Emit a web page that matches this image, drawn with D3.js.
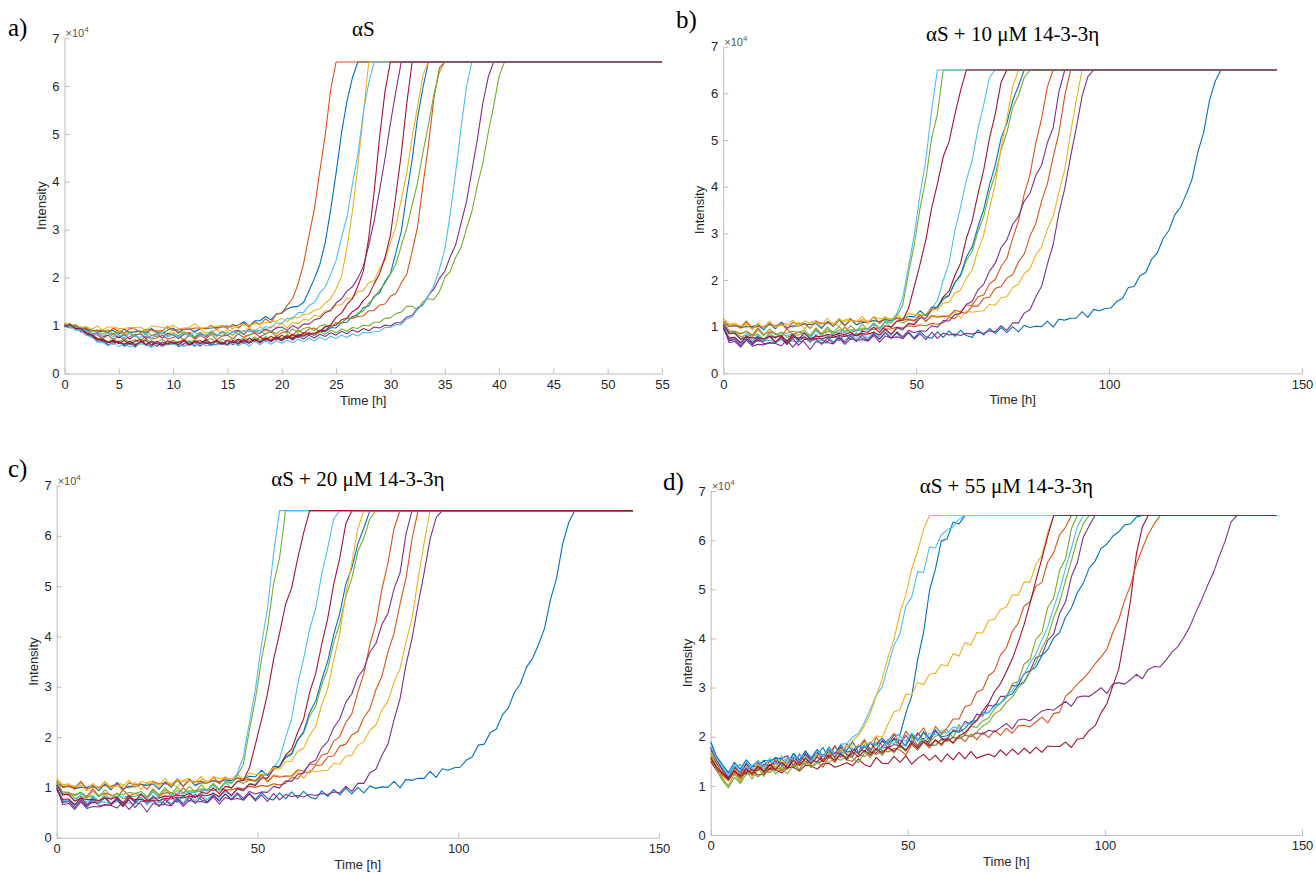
<!DOCTYPE html>
<html><head><meta charset="utf-8">
<script src="https://cdn.jsdelivr.net/npm/d3@7"></script>
<style>
body{margin:0;background:#fff}
svg{display:block}
</style>
</head><body>
<svg id="chart" width="1316" height="875"></svg>
<script>
// MATLAB default line colour order
const COLORS = ["#0072BD","#D95319","#EDB120","#7E2F8E","#77AC30","#4DBEEE","#A2142F"];
const TICKS_A = [0,5,10,15,20,25,30,35,40,45,50,55];
const TICKS_BCD = [0,50,100,150];
const Y_TICKS = [0,1,2,3,4,5,6,7]; // ×10^4
// sampling interval (h) of the values below, and end of record (h)
const DT_A = 0.5, T_END_A = 55;
const DT_BCD = 1.5, T_END_BCD = 143.5;
// intensity values are in units of 100 (650 = 6.5×10^4 = detector saturation)

// ---- panel a) αS, 14 wells, slot order = MATLAB colour order
const seriesA = [
 // blue
 [99,104,93,92,80,78,67,69,60,64,66,57,63,55,66,60,57,67,58,64,65,56,62,68,58,63,66,58,68,61,67,60,69,63,65,72,64,73,67,75,70,77,72,80,77,85,79,88,87,96,95,106,107,119,122,137,141,161,168,192,208,252,296,374,446,534,597,650],
 // orange
 [100,96,98,90,89,81,81,73,80,71,79,70,77,82,69,78,72,74,80,72,75,79,69,81,72,79,73,82,70,78,80,72,83,75,81,84,76,83,87,78,85,88,79,91,83,93,95,87,99,96,106,105,115,115,119,120,131,131,143,145,161,167,189,207,254,306,394,476,574,637,650],
 // yellow
 [106,101,102,95,96,89,91,89,91,83,92,84,88,86,89,80,91,82,90,81,92,83,87,85,88,93,84,87,92,83,91,88,90,87,96,86,98,89,99,96,105,95,107,104,113,111,121,119,131,130,143,143,156,158,171,173,189,194,218,237,273,307,363,417,493,557,623,650],
 // purple
 [100,96,96,87,85,75,74,66,67,61,68,59,66,57,67,59,65,56,66,60,62,66,58,61,65,57,67,60,61,66,59,68,61,70,63,71,64,72,66,74,68,76,70,78,72,80,74,82,77,85,80,88,83,91,86,94,89,97,95,101,99,106,106,118,121,137,144,163,176,198,213,243,268,313,358,423,488,563,618,650],
 // green
 [99,104,94,93,84,82,73,73,66,72,65,73,64,71,63,72,65,66,71,64,70,63,72,64,71,62,70,73,64,72,66,74,67,75,68,76,69,77,71,79,73,81,75,83,77,85,79,87,82,90,85,93,88,96,94,101,99,107,107,115,116,125,128,140,140,133,150,156,154,170,200,213,242,263,302,338,392,438,502,558,620,650],
 // light blue
 [97,97,90,90,80,77,66,65,58,64,56,63,55,62,61,61,54,63,56,62,60,59,57,63,56,65,58,59,60,61,59,66,58,65,57,67,60,68,61,69,63,70,64,72,66,74,68,76,70,78,73,80,75,83,78,86,85,87,88,96,96,102,102,114,118,134,143,162,183,217,258,332,418,512,598,650],
 // dark red
 [101,101,95,95,85,82,72,72,65,67,66,61,68,60,66,69,59,67,61,62,66,60,68,59,65,69,62,64,68,63,61,69,63,71,64,72,66,74,69,76,71,79,73,81,80,82,83,90,90,99,101,112,116,129,136,152,163,187,208,242,288,372,458,562,650],
 // blue
 [103,102,96,97,91,92,87,88,88,90,82,93,85,87,88,84,94,86,83,91,95,85,93,93,87,94,94,95,96,97,98,99,101,108,99,110,110,119,112,124,126,135,139,140,148,172,198,227,273,342,418,502,568,617,650],
 // orange
 [101,97,99,94,94,88,90,89,85,95,87,84,94,93,86,92,91,89,89,98,90,91,92,92,95,95,93,101,92,100,94,103,95,105,97,108,102,114,106,124,126,142,156,187,228,287,343,422,498,592,650],
 // yellow
 [105,100,102,96,98,92,99,91,97,97,94,94,96,96,97,89,99,98,96,94,101,93,95,96,104,94,96,97,99,99,100,93,102,101,101,103,104,106,108,109,115,108,118,116,123,124,132,135,147,156,177,203,262,338,432,538,650],
 // purple
 [100,95,101,91,93,83,85,77,80,83,74,81,72,80,83,73,79,82,74,84,80,73,82,85,75,83,77,86,78,88,80,87,90,82,92,85,84,93,87,95,97,90,100,94,103,103,112,115,127,132,147,156,172,181,199,223,267,318,382,448,522,588,650],
 // green
 [103,98,100,94,96,88,89,82,88,80,87,79,86,78,85,88,80,77,86,79,85,78,87,80,77,86,79,88,81,78,86,80,88,81,79,87,90,82,89,83,91,84,93,86,94,97,89,99,102,96,106,106,115,116,126,130,147,158,174,188,207,228,267,303,352,398,462,518,582,628,650],
 // light blue
 [102,96,97,91,90,82,83,77,85,76,82,74,84,77,75,83,73,82,85,76,82,75,84,77,86,78,80,85,77,87,80,88,82,90,87,91,89,98,95,106,104,115,114,127,127,142,148,168,181,207,236,284,326,394,456,544,606,650],
 // dark red
 [98,102,94,94,83,80,70,71,64,70,62,69,61,67,71,60,68,62,59,69,63,65,70,60,68,62,71,63,69,61,70,64,72,65,74,67,76,69,78,71,80,73,82,75,85,84,84,88,97,101,117,126,144,156,182,213,282,378,492,588,650]
];

// ---- panel b) αS + 10 µM 14-3-3η
const seriesB = [
 // blue
 [96,72,74,66,76,64,80,68,79,66,74,62,82,69,80,66,83,72,68,82,70,84,72,86,75,71,85,73,87,76,86,74,88,76,90,78,75,89,77,91,79,92,81,77,93,82,96,85,98,87,100,89,103,98,101,100,112,99,116,114,118,118,132,120,137,134,139,140,154,161,184,186,209,216,244,258,289,306,339,356,384,416,474,516,584,626,650],
 // orange
 [106,88,90,84,90,82,97,83,89,85,79,95,83,88,86,80,96,84,89,89,85,99,87,92,92,96,94,98,95,95,99,97,102,100,104,102,107,105,108,120,117,131,129,144,144,161,163,182,186,204,211,239,256,294,321,369,406,464,516,594,650],
 // yellow
 [118,105,107,95,109,97,100,99,111,96,108,106,98,110,95,109,113,99,111,108,101,114,118,103,116,112,113,109,122,107,120,116,117,114,126,112,125,122,123,120,132,118,134,131,133,134,148,146,162,164,184,191,214,224,254,271,309,336,389,436,514,586,650],
 // purple
 [102,66,68,56,71,58,62,61,65,64,59,71,56,70,67,51,68,65,66,63,76,62,74,71,72,69,81,67,80,76,78,75,87,73,85,72,88,75,86,82,84,81,86,84,88,86,91,89,102,92,108,108,129,136,164,186,234,276,344,396,464,526,594,636,650],
 // green
 [104,84,88,86,90,78,93,81,95,83,87,86,90,88,92,81,97,85,99,87,100,88,102,91,105,93,107,95,110,98,112,108,114,113,126,124,140,142,162,168,194,208,242,261,304,336,389,426,479,516,569,596,634,650],
 // light blue
 [102,74,74,62,76,60,73,70,71,67,72,69,69,66,80,68,72,70,83,67,80,69,84,73,87,75,90,78,93,81,96,93,107,106,124,124,139,156,199,236,304,356,414,456,524,576,634,650],
 // dark red
 [98,76,77,65,80,66,70,69,82,67,79,65,78,76,76,73,75,74,78,77,81,79,83,81,85,84,88,82,95,84,98,94,107,104,119,118,136,141,164,176,209,236,289,326,384,436,504,556,624,650],
 // blue
 [110,101,102,98,100,100,104,93,107,95,110,97,102,101,106,104,107,96,111,100,114,102,116,104,109,109,113,111,115,113,118,116,122,121,134,124,142,141,159,166,194,211,249,271,314,351,404,446,504,536,584,616,650],
 // orange
 [112,100,103,99,112,97,101,100,104,102,106,94,109,105,107,96,111,107,108,104,117,102,114,111,112,108,121,107,119,116,118,114,116,112,125,111,123,120,122,123,135,132,146,146,164,168,192,201,229,246,289,326,384,426,494,546,614,650],
 // yellow
 [115,104,106,102,104,93,108,97,112,99,103,102,114,100,112,108,109,105,118,103,115,112,113,110,122,108,121,117,119,115,127,114,129,125,126,127,139,136,151,152,172,178,204,221,264,296,354,406,484,546,614,650],
 // purple
 [100,70,72,59,74,61,76,63,66,65,77,62,75,60,73,71,74,62,76,64,78,66,80,68,82,70,84,73,87,75,89,78,92,87,91,90,102,99,113,112,126,128,148,154,179,191,219,236,269,286,319,336,369,386,424,446,494,526,604,650],
 // green
 [112,91,90,78,82,80,84,72,87,75,89,77,82,82,87,76,92,80,95,83,94,90,93,93,97,95,108,96,112,109,124,146,214,276,354,416,504,556,650],
 // light blue
 [108,88,84,72,86,70,83,67,81,79,82,81,84,72,88,77,91,79,83,84,89,87,91,90,94,93,105,92,110,108,129,161,229,296,384,456,564,650],
 // dark red
 [105,86,86,73,78,76,76,74,79,77,81,69,84,72,86,74,79,79,83,81,85,83,88,80,90,88,99,87,102,99,112,114,139,186,234,286,354,406,464,496,554,606,650]
];

// ---- panel c) αS + 20 µM 14-3-3η : the traces read off panel c coincide with panel b
const seriesC = seriesB;

// ---- panel d) αS + 55 µM 14-3-3η
const seriesD = [
 // blue
 [178,148,136,119,141,122,147,128,139,151,133,158,141,147,166,143,171,150,162,178,155,181,166,172,190,168,193,174,186,197,184,204,203,248,283,357,412,497,541,598,603,637,633,650],
 // orange
 [160,146,121,116,133,113,139,122,147,128,136,153,131,158,141,149,167,146,172,153,164,182,158,186,171,179,194,168,199,181,192,207,184,211,196,203,218,194,221,207,218,236,236,261,265,291,296,324,334,366,381,414,431,466,474,506,514,556,574,611,626,650],
 // yellow
 [158,149,114,117,128,113,136,121,131,142,128,147,133,154,139,148,163,144,168,150,172,156,177,162,183,180,188,186,202,199,226,251,255,287,286,311,306,327,329,347,344,369,364,392,386,412,411,437,439,459,464,489,488,515,514,551,569,616,650],
 // purple
 [172,146,131,114,136,143,123,140,148,127,152,136,156,161,140,165,149,154,169,151,174,158,179,164,160,183,168,189,172,193,177,198,183,203,186,208,193,189,212,197,195,214,211,231,226,246,242,264,262,282,282,304,304,328,334,361,366,396,409,451,474,526,554,606,629,650],
 // green
 [167,138,115,100,124,108,131,114,137,119,145,124,139,134,153,132,158,139,150,149,169,147,173,152,166,168,184,160,188,169,180,194,177,186,203,181,209,188,201,204,214,198,225,203,221,219,232,238,257,268,279,308,312,348,357,398,412,463,482,538,562,623,650],
 // light blue
 [188,157,141,124,143,129,149,133,152,138,156,143,161,147,166,151,170,156,174,161,179,166,185,186,199,207,229,256,284,301,344,386,409,466,484,536,534,586,584,611,621,627,643,650],
 // dark red
 [150,131,126,112,132,117,128,130,122,124,135,132,126,137,138,130,142,141,134,145,146,138,142,147,141,155,143,139,158,146,145,160,148,161,144,156,164,152,162,149,165,153,168,155,170,156,161,165,159,173,162,175,164,177,166,179,168,181,180,180,189,178,195,197,213,222,248,267,303,337,403,477,573,627,650],
 // blue
 [190,160,143,127,148,134,153,139,141,152,150,157,155,142,166,153,171,156,174,160,178,164,183,169,171,181,179,186,184,190,189,195,193,181,205,192,210,196,214,200,202,211,209,217,231,233,248,249,265,267,283,287,305,312,333,342,365,377,401,412,443,462,493,512,543,557,583,592,608,617,631,633,647,650],
 // orange
 [154,136,122,110,128,116,133,122,139,127,143,132,130,143,139,148,144,153,149,138,160,148,165,153,150,164,160,168,164,172,169,176,173,163,184,173,189,177,193,182,197,186,201,190,205,194,209,198,213,203,217,207,222,223,220,230,240,228,247,250,282,293,307,318,332,348,362,378,412,438,477,508,552,583,612,633,650],
 // yellow
 [170,150,130,119,135,124,140,128,144,133,149,137,153,142,158,146,162,150,159,163,162,166,174,178,192,203,222,248,282,318,362,398,452,488,542,578,622,650],
 // purple
 [178,153,132,119,138,126,144,132,132,144,141,149,146,136,158,147,164,152,149,163,160,168,164,154,176,165,180,169,167,180,177,184,181,171,192,181,196,185,182,195,192,199,196,203,200,208,205,213,210,218,227,216,234,236,232,243,252,256,254,263,272,262,280,283,282,290,300,288,307,310,307,316,327,318,337,343,342,356,372,383,402,423,452,478,507,533,567,598,637,650],
 // green
 [160,131,111,96,117,105,123,126,118,129,127,136,134,125,143,133,150,137,146,150,148,156,152,161,157,147,168,158,173,162,177,167,183,171,188,176,193,182,182,193,190,198,196,204,200,210,222,229,247,254,270,280,300,310,332,350,380,403,442,473,517,558,602,633,650],
 // light blue
 [182,156,137,120,139,142,132,141,151,134,156,145,143,157,154,162,159,148,171,160,176,165,162,177,174,182,179,187,184,174,196,185,201,190,208,196,193,207,204,212,207,220,217,227,226,234,246,250,262,268,284,293,312,326,350,368,397,423,462,498,542,583,627,650],
 // dark red
 [157,138,127,116,131,120,135,125,140,129,143,133,148,137,152,141,156,145,159,149,162,152,165,156,169,159,172,163,176,166,179,170,183,173,187,177,190,181,194,185,197,188,202,208,222,233,252,268,292,308,332,358,392,428,472,518,562,608,650]
];

const panels = [
 {label:"a)", title:"αS", series:seriesA, dt:DT_A, tEnd:T_END_A, xMax:55, xTicks:TICKS_A,
  l:64.5, r:662, t:38, b:373.5, labelX:8, labelY:36, titleY:36},
 {label:"b)", title:"αS + 10 μM 14-3-3η", series:seriesB, dt:DT_BCD, tEnd:T_END_BCD, xMax:150, xTicks:TICKS_BCD,
  l:723.3, r:1302, t:46.7, b:373.3, labelX:676, labelY:28, titleY:41},
 {label:"c)", title:"αS + 20 μM 14-3-3η", series:seriesC, dt:DT_BCD, tEnd:T_END_BCD, xMax:150, xTicks:TICKS_BCD,
  l:56.7, r:659, t:485.5, b:837.7, labelX:8, labelY:477, titleY:486},
 {label:"d)", title:"αS + 55 μM 14-3-3η", series:seriesD, dt:DT_BCD, tEnd:T_END_BCD, xMax:150, xTicks:TICKS_BCD,
  l:710.7, r:1302, t:491, b:835, labelX:663, labelY:490, titleY:493}
];

const svg = d3.select("#chart");
const SANS = "'Liberation Sans', Arial, Helvetica, sans-serif";
const SERIF = "'Liberation Serif', 'Times New Roman', serif";
const AXIS_COL = "#bcbcbc", TEXT_COL = "#262626";

panels.forEach(p => {
  const g = svg.append("g");
  const x = d3.scaleLinear().domain([0, p.xMax]).range([p.l, p.r]);
  const y = d3.scaleLinear().domain([0, 70000]).range([p.b, p.t]);

  // axes (MATLAB style: left + bottom, ticks pointing inwards)
  const xa = g.append("g").attr("transform", `translate(0,${p.b})`)
    .call(d3.axisBottom(x).tickValues(p.xTicks).tickFormat(d3.format("d"))
      .tickSizeInner(-5).tickSizeOuter(0).tickPadding(6));
  const ya = g.append("g").attr("transform", `translate(${p.l},0)`)
    .call(d3.axisLeft(y).tickValues(Y_TICKS.map(v => v * 10000)).tickFormat(d => d / 10000)
      .tickSizeInner(-5).tickSizeOuter(0).tickPadding(5));
  [xa, ya].forEach(a => {
    a.selectAll("path, line").attr("stroke", AXIS_COL);
    a.selectAll("text").attr("fill", TEXT_COL).attr("font-family", SANS).attr("font-size", 13);
  });

  // curves
  const line = d3.line().x(d => x(d[0])).y(d => y(d[1]));
  p.series.forEach((vals, i) => {
    const pts = vals.map((v, k) => [k * p.dt, v * 100]);
    pts.push([p.tEnd, vals[vals.length - 1] * 100]);
    g.append("path").datum(pts).attr("d", line)
      .attr("fill", "none").attr("stroke", COLORS[i % COLORS.length])
      .attr("stroke-width", 1.1).attr("stroke-linejoin", "round");
  });

  // exponent
  const ex = g.append("text").attr("x", p.l + 1).attr("y", p.t - 1)
    .attr("font-family", SANS).attr("font-size", 11).attr("fill", "#555");
  ex.append("tspan").text("×10");
  ex.append("tspan").attr("dy", -5).attr("font-size", 8).text("4");

  // axis labels
  g.append("text").attr("x", (p.l + p.r) / 2).attr("y", p.b + 31)
    .attr("text-anchor", "middle").attr("font-family", SANS).attr("font-size", 13)
    .attr("fill", TEXT_COL).text("Time [h]");
  g.append("text").attr("transform", `translate(${p.l - 19},${(p.t + p.b) / 2}) rotate(-90)`)
    .attr("text-anchor", "middle").attr("font-family", SANS).attr("font-size", 13)
    .attr("fill", TEXT_COL).text("Intensity");

  // title + panel letter
  g.append("text").attr("x", (p.l + p.r) / 2).attr("y", p.titleY)
    .attr("text-anchor", "middle").attr("font-family", SERIF).attr("font-size", 21)
    .attr("fill", "#000").text(p.title);
  g.append("text").attr("x", p.labelX).attr("y", p.labelY)
    .attr("font-family", SERIF).attr("font-size", 25).attr("fill", "#000").text(p.label);
});
</script>
</body></html>
